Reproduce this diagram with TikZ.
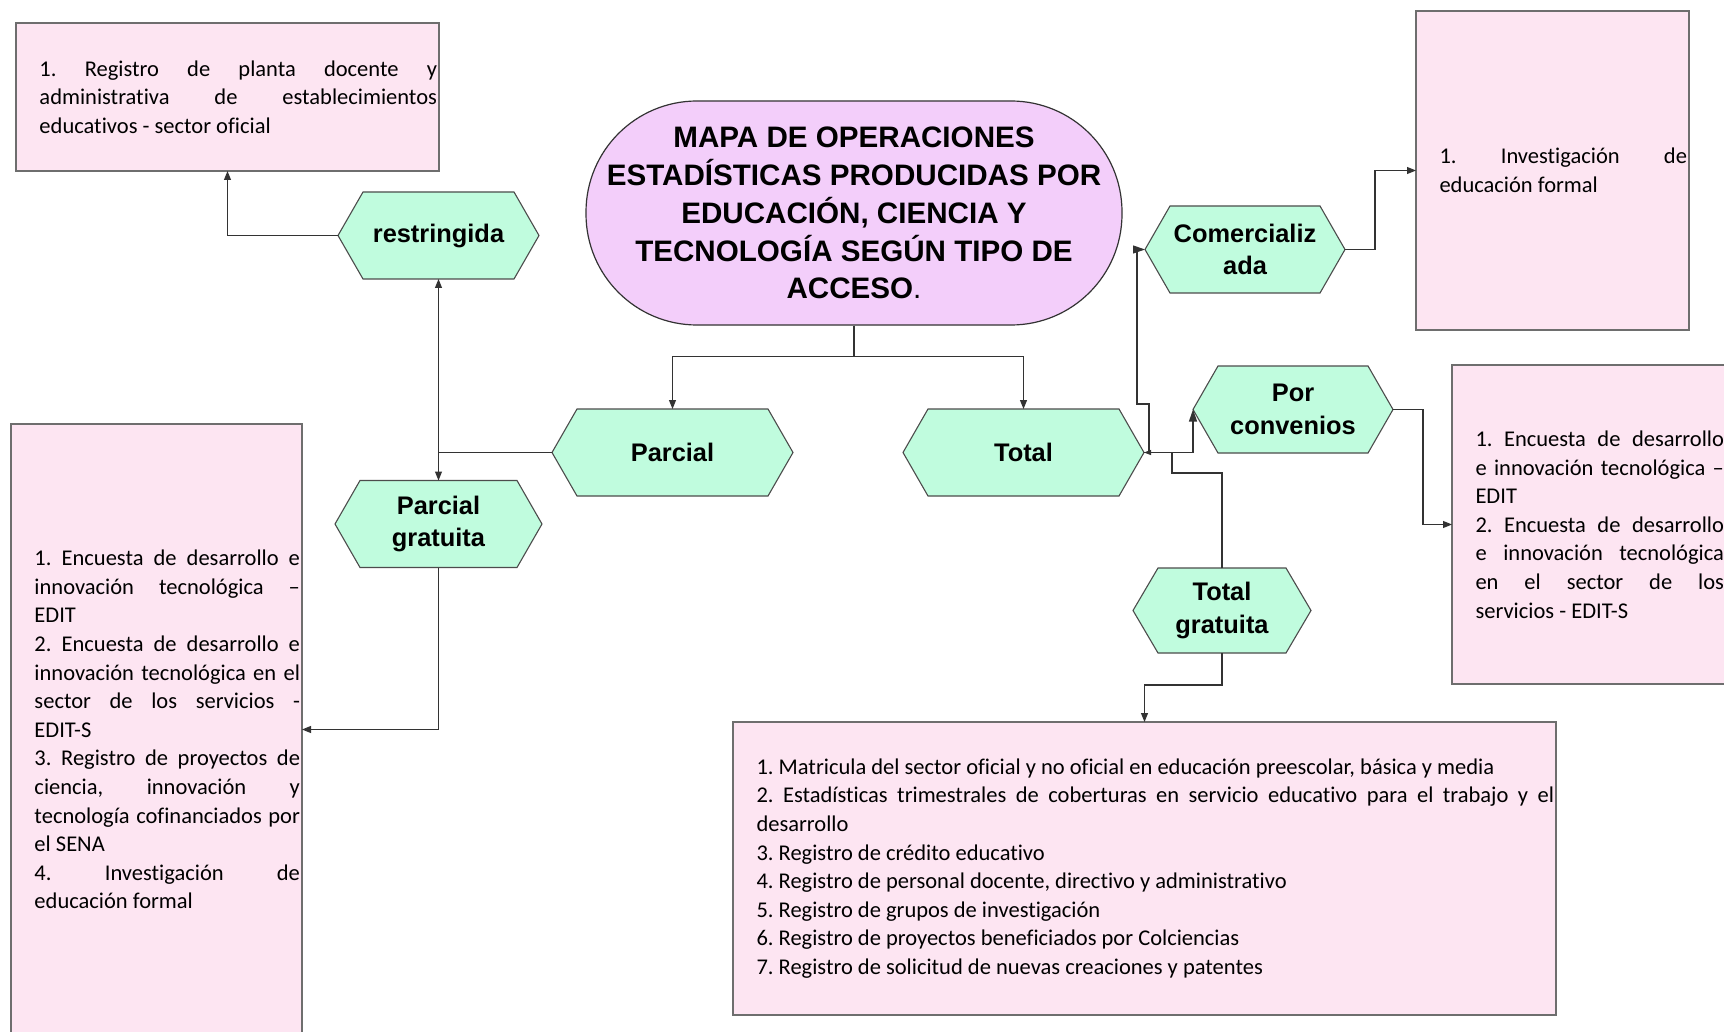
\documentclass[tikz,border=0pt]{standalone}
\usepackage{fontspec}
\setmainfont{Carlito}[Ligatures={TeX,CommonOff}]
\newfontfamily\arialfont{Liberation Sans}
\usetikzlibrary{arrows.meta,backgrounds}

\definecolor{titlefill}{RGB}{243,206,250}
\definecolor{hexfill}{RGB}{192,252,222}
\definecolor{boxfill}{RGB}{253,229,242}
\definecolor{boxline}{RGB}{110,110,110}

\newcommand{\titletext}{\arialfont\bfseries\fontsize{29.6pt}{37.9pt}\selectfont}
\newcommand{\hexatext}{\arialfont\bfseries\fontsize{25.4pt}{32.5pt}\selectfont}
\newcommand{\boxtext}{\fontsize{22.5pt}{28.6pt}\selectfont}
\newcommand{\boxpad}{\leftskip=23.5pt\rightskip=2pt\tolerance=10000\hyphenpenalty=10000\exhyphenpenalty=10000\frenchspacing}

\tikzset{
  hexa/.style={minimum height=87pt, inner sep=0pt, outer sep=0pt, align=center, font=\hexatext},
  hexline/.style={draw=black!70, line width=1.1pt, fill=hexfill},
  opbox/.style={draw=boxline, line width=1.8pt, fill=boxfill, inner sep=0pt, outer sep=0pt,
    align=justify, font=\boxtext, execute at begin node=\boxpad},
  link/.style={draw=black!80, line width=1.05pt},
  conn/.style={link, -{Triangle[length=9pt,width=7pt]}},
  longtip/.style={link, -{Triangle[length=12pt,width=8pt]}},
  smalltip/.style={link, -{Triangle[length=7pt,width=5pt]}}
}

\begin{document}
\begin{tikzpicture}[x=1pt,y=-1pt]
\useasboundingbox (0,0) rectangle (1724,1032);
\clip (0,0) rectangle (1724,1032);

% title
\node[draw=black!80, line width=1.2pt, fill=titlefill, rounded corners=111pt,
  minimum width=536pt, minimum height=224pt, align=center, font=\titletext] (title) at (854,213)
  {MAPA DE OPERACIONES\\ESTADÍSTICAS PRODUCIDAS POR\\EDUCACIÓN, CIENCIA Y\\TECNOLOGÍA SEGÚN TIPO DE\\ACCESO{\mdseries.}};

% access types
\node[hexa, minimum width=201pt] (restr) at (438.5,235.5) {restringida};
\node[hexa, minimum width=241pt] (parcial) at (672.5,452.5) {Parcial};
\node[hexa, minimum width=207pt] (pgrat) at (438.5,524) {Parcial\\gratuita};
\node[hexa, minimum width=241pt] (total) at (1023.5,452.5) {Total};
\node[hexa, minimum width=200pt] (comer) at (1245,249.5) {Comercializ\\ada};
\node[hexa, minimum width=200pt] (conv) at (1293,409.5) {Por\\convenios};
\node[hexa, minimum width=178pt, minimum height=85pt] (tgrat) at (1222,610.5) {Total\\gratuita};

\begin{scope}[on background layer]
\fill[white] (0,0) rectangle (1724,1032);
\foreach \h in {restr,parcial,pgrat,total,comer,conv,tgrat}
  \draw[hexline] (\h.west) -- ([xshift=25pt]\h.north west) -- ([xshift=-25pt]\h.north east)
    -- (\h.east) -- ([xshift=-25pt]\h.south east) -- ([xshift=25pt]\h.south west) -- cycle;
\end{scope}

% operation lists
\node[opbox, text width=423pt, minimum height=148pt] (reg) at (227.5,97)
  {1. Registro de planta docente y\linebreak administrativa de establecimientos\linebreak educativos - sector oficial};
\node[opbox, text width=291pt, minimum height=611pt] (leftbox) at (156.5,729.5)
  {1. Encuesta de desarrollo e\linebreak innovación tecnológica –\linebreak EDIT\par
   2. Encuesta de desarrollo e\linebreak innovación tecnológica en el\linebreak sector de los servicios -\linebreak EDIT-S\par
   3. Registro de proyectos de\linebreak ciencia, innovación y\linebreak tecnología cofinanciados por\linebreak el SENA\par
   4. Investigación de\linebreak educación formal};
\node[opbox, text width=273pt, minimum height=319pt] (boxtr) at (1552.5,170.5)
  {1. Investigación de\linebreak educación formal};
\node[opbox, text width=274pt, minimum height=319pt] (rbox) at (1589,524.5)
  {1. Encuesta de desarrollo\linebreak e innovación tecnológica –\linebreak EDIT\par
   2. Encuesta de desarrollo\linebreak e innovación tecnológica\linebreak en el sector de los\linebreak servicios - EDIT-S};
\node[opbox, text width=823pt, minimum height=293pt] (bottom) at (1144.5,868.5)
  {1. Matricula del sector oficial y no oficial en educación preescolar, básica y media\par
   2. Estadísticas trimestrales de coberturas en servicio educativo para el trabajo y el\linebreak desarrollo\par
   3. Registro de crédito educativo\par
   4. Registro de personal docente, directivo y administrativo\par
   5. Registro de grupos de investigación\par
   6. Registro de proyectos beneficiados por Colciencias\par
   7. Registro de solicitud de nuevas creaciones y patentes};

% connectors
\draw[conn] (title.south) -- ++(0,31) -| (parcial.north);
\draw[conn] (title.south) -- ++(0,31) -| (total.north);
\draw[conn] (restr.west) -| (reg.south);
\draw[link, {Triangle[length=9pt,width=7pt]}-{Triangle[length=9pt,width=7pt]}] (restr.south) -- (pgrat.north);
\draw[link] (parcial.west) -- (parcial.west -| pgrat.north);
\draw[conn] (pgrat.south) |- (leftbox.east);
\draw[conn] (comer.east) -- ++(30,0) |- (boxtr.west);
\draw[conn] (conv.east) -- ++(30,0) |- (rbox.west);
\draw[longtip] (total.east) -| (conv.west);
\draw[longtip] ([xshift=5pt]total.east) -- ++(0,-48.5) -- ++(-12,0) |- (comer.west);
\draw[smalltip] (tgrat.north) |- ([xshift=28pt,yshift=-20.5pt]total.east) -- ([xshift=28pt]total.east) -- (total.east);
\draw[conn] (tgrat.south) -- ++(0,32) -| (bottom.north);
\end{tikzpicture}
\end{document}
